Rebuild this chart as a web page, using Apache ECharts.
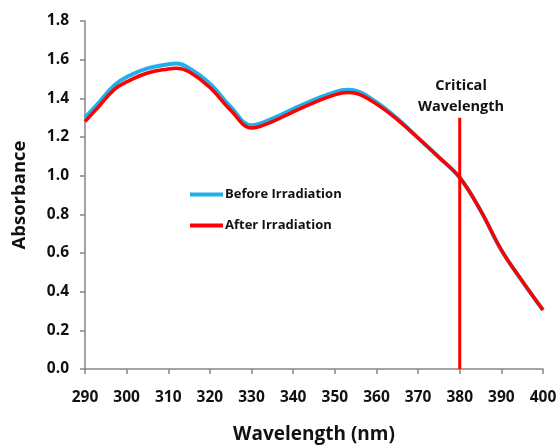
<!DOCTYPE html>
<html>
<head>
<meta charset="utf-8">
<script src="https://cdn.jsdelivr.net/npm/echarts@6/dist/echarts.min.js"></script>
<style>html,body{margin:0;padding:0;background:#fff}#c{width:560px;height:448px}</style>
</head>
<body>
<div id="c"></div>
<script>
var wavelengths = [290, 293, 297, 300, 305, 310, 312, 315, 320, 325, 330, 335, 340, 345, 350, 353, 355, 360, 365, 370, 375, 380, 385, 390, 395, 400];
var beforeIrr   = [1.30, 1.37, 1.467, 1.51, 1.555, 1.576, 1.58, 1.556, 1.476, 1.355, 1.261, 1.295, 1.345, 1.392, 1.432, 1.444, 1.44, 1.38, 1.295, 1.195, 1.095, 0.99, 0.82, 0.615, 0.455, 0.305];
var afterIrr    = [1.28, 1.35, 1.445, 1.485, 1.531, 1.552, 1.556, 1.537, 1.456, 1.338, 1.247, 1.28, 1.33, 1.378, 1.418, 1.43, 1.426, 1.37, 1.29, 1.195, 1.095, 0.99, 0.82, 0.615, 0.455, 0.305];
var criticalX = [380, 380];
var criticalY = [0, 1.30];
var seriesNames = ['Before Irradiation', 'After Irradiation'];
var xTitle = 'Wavelength (nm)';
var yTitle = 'Absorbance';
var criticalLabel = 'Critical\nWavelength';

function pairs(xs, ys) { return xs.map(function (x, i) { return [x, ys[i]]; }); }

var FONT = 'Open Sans';
var chart = echarts.init(document.getElementById('c'));
chart.setOption({
  animation: false,
  grid: { left: 85, right: 17, top: 21, bottom: 79, containLabel: false, outerBoundsMode: 'none' },
  legend: {
    orient: 'vertical', left: 185, top: 183,
    itemWidth: 33, itemHeight: 4, itemGap: 18,
    icon: 'rect',
    textStyle: { fontFamily: FONT, fontWeight: 'bold', fontSize: 13, color: '#111', padding: [0, 0, 0, -3] },
    data: seriesNames
  },
  xAxis: {
    type: 'value', min: 290, max: 400, interval: 10,
    name: xTitle, nameLocation: 'middle', nameGap: 56,
    nameTextStyle: { fontFamily: FONT, fontWeight: 'bold', fontSize: 19, color: '#111' },
    axisLine: { lineStyle: { color: '#868686', width: 1.5 } },
    axisTick: { show: true, length: 5, lineStyle: { color: '#868686', width: 1.5 } },
    axisLabel: { fontFamily: FONT, fontWeight: 'bold', fontSize: 15.5, color: '#111', margin: 21 },
    splitLine: { show: false }
  },
  yAxis: {
    type: 'value', min: 0, max: 1.8, interval: 0.2,
    name: yTitle, nameLocation: 'middle', nameGap: 56, nameRotate: 90,
    nameTextStyle: { fontFamily: FONT, fontWeight: 'bold', fontSize: 18.5, color: '#111' },
    axisLine: { show: true, lineStyle: { color: '#868686', width: 1.5 } },
    axisTick: { show: true, length: 5, lineStyle: { color: '#868686', width: 1.5 } },
    axisLabel: { fontFamily: FONT, fontWeight: 'bold', fontSize: 15.5, color: '#111', margin: 16,
      formatter: function (v) { return v.toFixed(1); } },
    splitLine: { show: false }
  },
  series: [
    { name: seriesNames[0], type: 'line', smooth: 0.4, showSymbol: false,
      data: pairs(wavelengths, beforeIrr),
      lineStyle: { color: '#1FB0EA', width: 4 }, itemStyle: { color: '#1FB0EA' } },
    { name: seriesNames[1], type: 'line', smooth: 0.4, showSymbol: false,
      data: pairs(wavelengths, afterIrr),
      lineStyle: { color: '#FF0000', width: 3.5 }, itemStyle: { color: '#FF0000' } },
    { name: 'critical', type: 'line', showSymbol: false,
      data: pairs(criticalX, criticalY),
      lineStyle: { color: '#FF0000', width: 3 }, itemStyle: { color: '#FF0000' } }
  ],
  graphic: [{
    type: 'text', x: 461, y: 75,
    style: { text: criticalLabel, align: 'center', verticalAlign: 'top',
      fontFamily: FONT, fontWeight: 'bold', fontSize: 14.5, lineHeight: 21, fill: '#111' }
  }]
});
</script>
</body>
</html>
